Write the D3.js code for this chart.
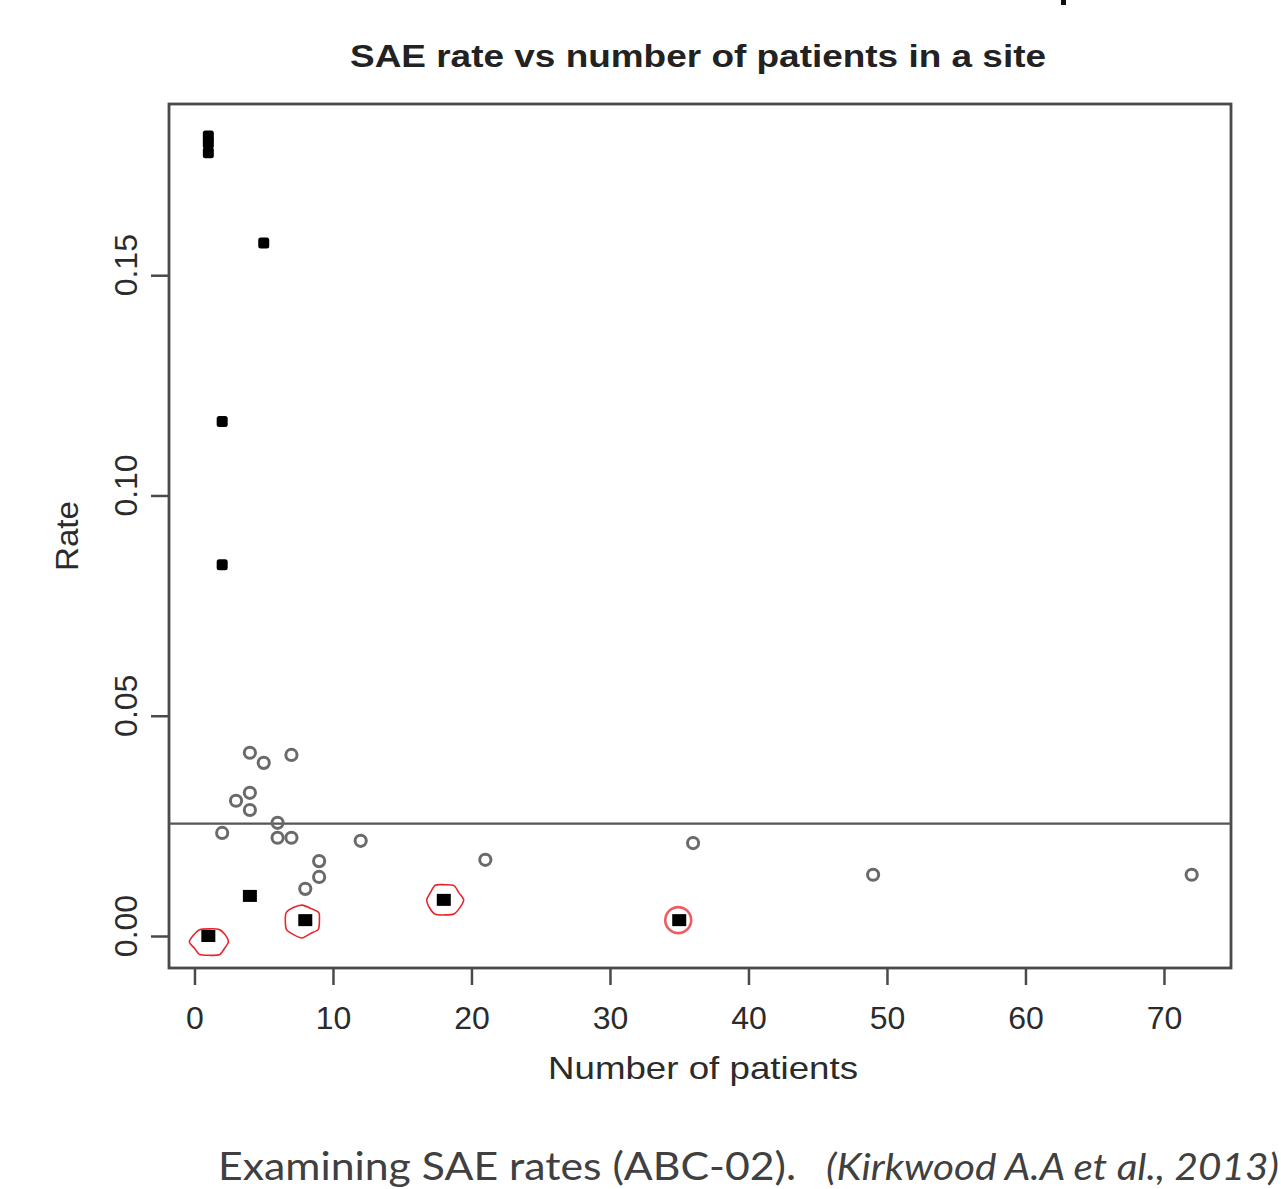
<!DOCTYPE html>
<html>
<head>
<meta charset="utf-8">
<script src="https://cdn.jsdelivr.net/npm/d3@7"></script>
<style>
  html, body { margin: 0; padding: 0; background: #fff; }
  svg { display: block; }
</style>
</head>
<body>
<svg id="chart" width="1281" height="1189"></svg>
<script>
// ---- Data ----
const chartTitle = "SAE rate vs number of patients in a site";
const xLabel = "Number of patients";
const yLabel = "Rate";
const captionMain = "Examining SAE rates (ABC-02).";
const captionRef = "(Kirkwood A.A et al., 2013)";

const xTicks = [0, 10, 20, 30, 40, 50, 60, 70];
const yTicks = [0.00, 0.05, 0.10, 0.15];
const yTickLabels = ["0.00", "0.05", "0.10", "0.15"];

// Sites flagged with high SAE rate (filled squares, upper part)
const highPatients = [1, 1, 1, 5, 2, 2];
const highRates    = [0.1816, 0.1800, 0.1778, 0.1573, 0.1168, 0.0843];

// Sites flagged with low SAE rate (filled squares, bottom)
const lowPatients = [4, 1, 8, 18, 35];
const lowRates    = [0.0091, 0.0000, 0.0036, 0.0082, 0.0036];
const lowCircled  = [false, true, true, true, true];

// Sites within expected range (open circles)
const normalPatients = [4, 5, 7, 4, 3, 4, 6, 2, 6, 7, 12, 9, 9, 8, 21, 36, 49, 72];
const normalRates    = [0.0416, 0.0393, 0.0411, 0.0325, 0.0307, 0.0286, 0.0257, 0.0234,
                        0.0223, 0.0223, 0.0216, 0.0170, 0.0134, 0.0107, 0.0173, 0.0211,
                        0.0139, 0.0139];

// Overall reference rate (horizontal line)
const overallRate = 0.0255;

// ---- Layout ----
const svg = d3.select("#chart");
const box = { left: 169, right: 1231, top: 104, bottom: 968 };

const allX = [...highPatients, ...lowPatients, ...normalPatients];
const allY = [...highRates, ...lowRates, ...normalRates];
function rExtend([a, b]) { const d = (b - a) * 0.04; return [a - d, b + d]; }

const x = d3.scaleLinear().domain(rExtend(d3.extent(allX))).range([box.left, box.right]);
const y = d3.scaleLinear().domain(rExtend(d3.extent(allY))).range([box.bottom, box.top]);

const axisColor = "#4a4a4a";
const textColor = "#2b2b2b";
const font = "'Liberation Sans', Arial, sans-serif";

// small artifact mark at top edge
svg.append("rect").attr("x", 1061).attr("y", 0).attr("width", 5).attr("height", 5).attr("fill", "#111");

// Title
svg.append("text")
  .attr("x", 698).attr("y", 67)
  .attr("text-anchor", "middle")
  .attr("font-family", font).attr("font-weight", "bold").attr("font-size", 32)
  .attr("fill", "#222")
  .attr("textLength", 696).attr("lengthAdjust", "spacingAndGlyphs")
  .text(chartTitle);

// X axis
const xAxis = d3.axisBottom(x).tickValues(xTicks).tickSize(17).tickPadding(21).tickFormat(d3.format("d"));
const gx = svg.append("g").attr("transform", `translate(0,${box.bottom})`).call(xAxis);
gx.select(".domain").remove();
gx.selectAll(".tick line").attr("stroke", axisColor).attr("stroke-width", 2.5);
gx.selectAll(".tick text").attr("font-family", font).attr("font-size", 32).attr("fill", textColor);

// Y axis (ticks only, labels rotated like R)
const yAxis = d3.axisLeft(y).tickValues(yTicks).tickSize(18).tickFormat("");
const gy = svg.append("g").attr("transform", `translate(${box.left},0)`).call(yAxis);
gy.select(".domain").remove();
gy.selectAll(".tick line").attr("stroke", axisColor).attr("stroke-width", 2.5);

svg.append("g").selectAll("text").data(yTicks).join("text")
  .attr("transform", (d) => `translate(137,${y(d) - 10}) rotate(-90)`)
  .attr("text-anchor", "middle")
  .attr("font-family", font).attr("font-size", 32).attr("fill", textColor)
  .text((d, i) => yTickLabels[i]);

// Axis titles
svg.append("text")
  .attr("x", 703).attr("y", 1079)
  .attr("text-anchor", "middle")
  .attr("font-family", font).attr("font-size", 32).attr("fill", textColor)
  .attr("textLength", 310).attr("lengthAdjust", "spacingAndGlyphs")
  .text(xLabel);
svg.append("text")
  .attr("transform", `translate(78,${(box.top + box.bottom) / 2}) rotate(-90)`)
  .attr("text-anchor", "middle")
  .attr("font-family", font).attr("font-size", 32).attr("fill", textColor)
  .attr("textLength", 70).attr("lengthAdjust", "spacingAndGlyphs")
  .text(yLabel);

// Plot box
svg.append("rect")
  .attr("x", box.left).attr("y", box.top)
  .attr("width", box.right - box.left).attr("height", box.bottom - box.top)
  .attr("fill", "none").attr("stroke", axisColor).attr("stroke-width", 2.8);

// Reference line
svg.append("line")
  .attr("x1", box.left).attr("x2", box.right)
  .attr("y1", y(overallRate)).attr("y2", y(overallRate))
  .attr("stroke", "#555").attr("stroke-width", 2.4);

// Open circles
svg.append("g").selectAll("circle").data(normalPatients.map((p, i) => [p, normalRates[i]])).join("circle")
  .attr("cx", (d) => x(d[0])).attr("cy", (d) => y(d[1]))
  .attr("r", 5.6)
  .attr("fill", "none").attr("stroke", "#6a6a6a").attr("stroke-width", 3);

// High-rate filled squares
const sHigh = 11;
svg.append("g").selectAll("rect").data(highPatients.map((p, i) => [p, highRates[i]])).join("rect")
  .attr("x", (d) => x(d[0]) - sHigh / 2).attr("y", (d) => y(d[1]) - sHigh / 2)
  .attr("width", sHigh).attr("height", sHigh)
  .attr("rx", 2.5)
  .attr("fill", "#000");

// Low-rate filled squares
const sLow = 14;
svg.append("g").selectAll("rect").data(lowPatients.map((p, i) => [p, lowRates[i]])).join("rect")
  .attr("x", (d) => x(d[0]) - sLow / 2).attr("y", (d) => y(d[1]) - sLow / 2 + 1)
  .attr("width", sLow).attr("height", sLow - 2)
  .attr("fill", "#000");

// Hand-drawn red circles around highlighted low-rate sites
const circled = lowPatients.map((p, i) => [p, lowRates[i], lowCircled[i]]).filter((d) => d[2]);
const loopShapes = [
  { dx: 1, dy: 6, rx: 19, ry: 14, w: 1.6, op: 1 },
  { dx: -3, dy: 1, rx: 18, ry: 16, w: 1.6, op: 1 },
  { dx: 1, dy: 0, rx: 18, ry: 16, w: 1.6, op: 1 },
  { dx: -1, dy: 0, rx: 13, ry: 13, w: 2.6, op: 0.75 }
];
const loopLine = d3.line().curve(d3.curveCardinalClosed.tension(0.3));
const wobble = [1.0, 0.92, 1.06, 0.95, 1.03, 0.9, 1.05, 0.97, 1.02, 0.94, 1.04, 0.98];
svg.append("g").selectAll("path").data(circled).join("path")
  .attr("d", (d, i) => {
    const s = loopShapes[i];
    const cx = x(d[0]) + s.dx, cy = y(d[1]) + s.dy;
    const pts = d3.range(12).map((k) => {
      const a = (k / 12) * 2 * Math.PI;
      const f = i === 3 ? 1 : wobble[(k + i * 3) % 12];
      return [cx + Math.cos(a) * s.rx * f, cy + Math.sin(a) * s.ry * f];
    });
    return loopLine(pts);
  })
  .attr("fill", "none")
  .attr("stroke", "#e8262a")
  .attr("stroke-width", (d, i) => loopShapes[i].w)
  .attr("stroke-opacity", (d, i) => loopShapes[i].op);

// Caption
svg.append("text")
  .attr("x", 218).attr("y", 1180)
  .attr("font-family", "Lato, 'Open Sans', sans-serif").attr("font-size", 38)
  .attr("fill", "#404040")
  .attr("textLength", 578).attr("lengthAdjust", "spacingAndGlyphs")
  .text(captionMain);
svg.append("text")
  .attr("x", 826).attr("y", 1180)
  .attr("font-family", "Lato, 'Open Sans', sans-serif").attr("font-size", 36)
  .attr("font-style", "italic")
  .attr("fill", "#404040")
  .attr("textLength", 453).attr("lengthAdjust", "spacingAndGlyphs")
  .text(captionRef);
</script>
</body>
</html>
